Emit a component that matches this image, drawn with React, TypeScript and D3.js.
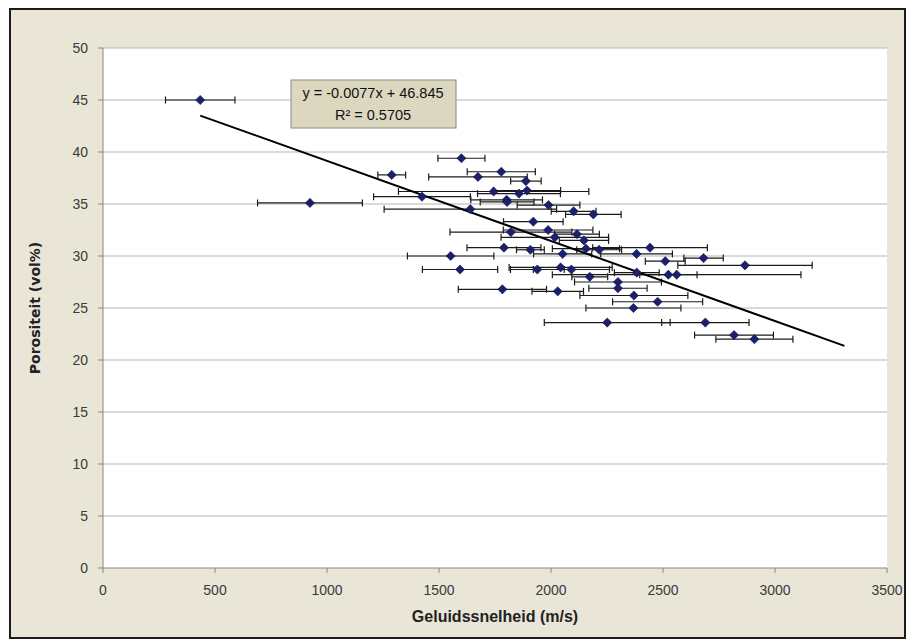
import React from 'react';
import * as d3 from 'd3';

// Geluidssnelheid (m/s) per sample
const speeds = [
  434, 1600, 1778, 1289, 1674, 1888, 1893, 1744, 1857, 1424,
  924, 1802, 1804, 1989, 1640, 2101, 2189, 1921, 1821, 1987,
  2017, 2116, 2147, 2156, 1790, 1908, 2215, 2442, 2052, 2382,
  1552, 2510, 2681, 2866, 1594, 1939, 2043, 2091, 2383, 2524,
  2561, 2173, 2299, 2299, 1783, 2030, 2370, 2476, 2368, 2251,
  2689, 2817, 2908,
];

// Porositeit (vol%) per sample
const porosities = [
  45.0, 39.4, 38.1, 37.8, 37.6, 37.2, 36.3, 36.2, 36.0, 35.7,
  35.1, 35.4, 35.2, 34.9, 34.5, 34.3, 34.0, 33.3, 32.3, 32.5,
  31.8, 32.1, 31.5, 30.7, 30.8, 30.6, 30.6, 30.8, 30.2, 30.2,
  30.0, 29.5, 29.8, 29.1, 28.7, 28.7, 28.9, 28.7, 28.4, 28.2,
  28.2, 28.0, 27.5, 26.9, 26.8, 26.6, 26.2, 25.6, 25.0, 23.6,
  23.6, 22.4, 22.0,
];

// horizontal error (+/- m/s)
const speedErrors = [
  155, 105, 152, 62, 220, 68, 150, 425, 185, 216,
  234, 160, 120, 140, 385, 100, 124, 133, 272, 200,
  240, 100, 110, 150, 165, 62, 100, 256, 130, 160,
  193, 89, 88, 300, 168, 120, 230, 170, 100, 128,
  555, 80, 194, 130, 197, 115, 241, 201, 212, 281,
  195, 176, 172,
];

const xTicks = [0, 500, 1000, 1500, 2000, 2500, 3000, 3500];
const yTicks = [0, 5, 10, 15, 20, 25, 30, 35, 40, 45, 50];

const trendSlope = -0.0077;
const trendIntercept = 46.845;
const trendRange = [434, 3310];
const equationLines = ['y = -0.0077x + 46.845', 'R² = 0.5705'];

const W = 908;
const H = 642;
const plot = { left: 103, right: 887, top: 48, bottom: 568 };
const font = '"Liberation Sans", Arial, sans-serif';

const App: React.FC = () => {
  const x = d3.scaleLinear().domain([0, 3500]).range([plot.left, plot.right]);
  const y = d3.scaleLinear().domain([0, 50]).range([plot.bottom, plot.top]);

  const points = speeds.map((s, i) => ({ s, p: porosities[i], e: speedErrors[i] }));

  const trendLine = d3.line<number>()
    .x(d => x(d))
    .y(d => y(trendSlope * d + trendIntercept));

  const diamond = (r: number) => `M0,${-r}L${r},0L0,${r}L${-r},0Z`;

  return (
    <svg
      width={W}
      height={H}
      style={{ position: 'absolute', left: 0, top: 0, display: 'block', background: '#fff' }}
    >
      {/* outer chart area */}
      <rect x={10} y={9} width={895} height={629} fill="#e9e6d8" stroke="#1b1b1b" strokeWidth={2} />

      {/* plot area */}
      <rect x={plot.left} y={plot.top} width={plot.right - plot.left} height={plot.bottom - plot.top} fill="#ffffff" />

      {/* gridlines */}
      {yTicks.filter(t => t > 0).map(t => (
        <line key={'g' + t} x1={plot.left} x2={plot.right} y1={y(t)} y2={y(t)} stroke="#b4b4b4" strokeWidth={1} />
      ))}

      {/* axes */}
      <line x1={plot.left} x2={plot.left} y1={plot.top} y2={plot.bottom} stroke="#868686" strokeWidth={1} />
      <line x1={plot.left} x2={plot.right} y1={plot.bottom} y2={plot.bottom} stroke="#868686" strokeWidth={1} />
      {yTicks.map(t => (
        <g key={'y' + t}>
          <line x1={plot.left - 5} x2={plot.left} y1={y(t)} y2={y(t)} stroke="#868686" />
          <text x={plot.left - 15} y={y(t)} dy="0.35em" textAnchor="end" fontFamily={font} fontSize={14} fill="#3a3a3a">
            {t}
          </text>
        </g>
      ))}
      {xTicks.map(t => (
        <g key={'x' + t}>
          <line x1={x(t)} x2={x(t)} y1={plot.bottom} y2={plot.bottom + 5} stroke="#868686" />
          <text x={x(t)} y={plot.bottom + 27} textAnchor="middle" fontFamily={font} fontSize={14} fill="#3a3a3a">
            {t}
          </text>
        </g>
      ))}

      {/* error bars */}
      {points.map((d, i) => (
        <g key={'e' + i} stroke="#1a1a1a" strokeWidth={1.2}>
          <line x1={x(d.s - d.e)} x2={x(d.s + d.e)} y1={y(d.p)} y2={y(d.p)} />
          <line x1={x(d.s - d.e)} x2={x(d.s - d.e)} y1={y(d.p) - 3.5} y2={y(d.p) + 3.5} />
          <line x1={x(d.s + d.e)} x2={x(d.s + d.e)} y1={y(d.p) - 3.5} y2={y(d.p) + 3.5} />
        </g>
      ))}

      {/* trendline */}
      <path d={trendLine(trendRange) || ''} fill="none" stroke="#000" strokeWidth={2} />

      {/* markers */}
      {points.map((d, i) => (
        <path key={'m' + i} d={diamond(4.6)} transform={`translate(${x(d.s)},${y(d.p)})`} fill="#1c1f6b" stroke="#141650" strokeWidth={0.6} />
      ))}

      {/* equation label */}
      <rect x={291} y={80} width={165} height={48} fill="#dcd8bf" stroke="#8a8a80" strokeWidth={1} />
      <text x={373} y={98} textAnchor="middle" fontFamily={font} fontSize={14.5} fill="#111">
        {equationLines[0]}
      </text>
      <text x={373} y={120} textAnchor="middle" fontFamily={font} fontSize={14.5} fill="#111">
        {equationLines[1]}
      </text>

      {/* axis titles */}
      <text x={(plot.left + plot.right) / 2} y={622} textAnchor="middle" fontFamily={font} fontSize={16} fontWeight="bold" fill="#222">
        Geluidssnelheid (m/s)
      </text>
      <text
        transform={`translate(40,${(plot.top + plot.bottom) / 2}) rotate(-90)`}
        textAnchor="middle"
        fontFamily='"DejaVu Sans", Verdana, sans-serif'
        fontSize={14}
        fontWeight="bold"
        fill="#222"
      >
        Porositeit (vol%)
      </text>
    </svg>
  );
};

export default App;
